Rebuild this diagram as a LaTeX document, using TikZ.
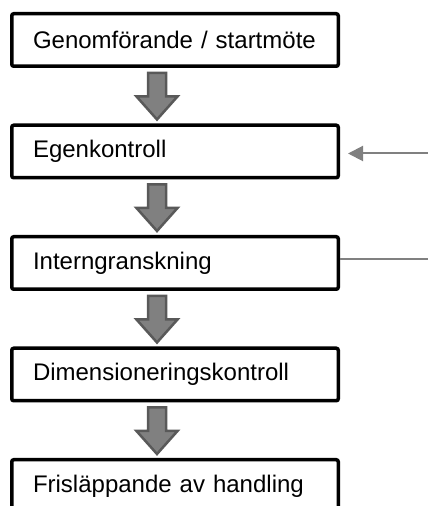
\documentclass[tikz,border=0pt]{standalone}
\usepackage{fontspec}
\setmainfont{Liberation Sans}
\usetikzlibrary{positioning,calc,arrows.meta}
\definecolor{arrowfill}{HTML}{808080}
\definecolor{arrowline}{HTML}{595959}
\begin{document}
\begin{tikzpicture}[x=1pt,y=1pt,
    node distance=55.5pt,
    stepbox/.style={draw, line width=3.5pt, rounded corners=2pt,
      minimum height=52.5pt, text width=290pt, inner xsep=18.25pt,
      align=left, font=\fontsize{24}{28}\selectfont,
      execute at begin node={\hspace*{3pt}}},
    blockarrow/.style={draw=arrowline, fill=arrowfill, line width=2.5pt, line join=miter},
    sidearrow/.style={draw=arrowfill, line width=2pt, -{Triangle[length=15pt,width=15pt]}}]
  \useasboundingbox (0,0) rectangle (428,506);
  \node[stepbox] (genom) at (175,466) {Genomförande / startmöte};
  \node[stepbox, below=of genom] (egen) {Egenkontroll};
  \node[stepbox, below=of egen] (intern) {Interngranskning};
  \node[stepbox, below=of intern] (dim) {Dimensioneringskontroll};
  \node[stepbox, below=of dim] (fri) {Frisläppande av handling};
  \foreach \from/\to in {genom/egen, egen/intern, intern/dim, dim/fri}
    \draw[blockarrow] ($(\from.south)+(-27,-5)$) |- ($(\to.north)+(-38.5,27)$)
      -- ($(\to.north)+(-18,4)$) -- ($(\to.north)+(2.5,27)$)
      -| ($(\from.south)+(-9,-5)$) -- cycle;
  \coordinate (egenin) at ($(egen.east)+(100,-2)$);
  \coordinate (internout) at ($(intern.east)+(100,4)$);
  \draw[sidearrow, shorten >=8pt] (egenin) -- (egenin -| egen.east);
  \draw[draw=arrowfill, line width=2pt] (intern.east |- internout) -- (internout);
\end{tikzpicture}
\end{document}
